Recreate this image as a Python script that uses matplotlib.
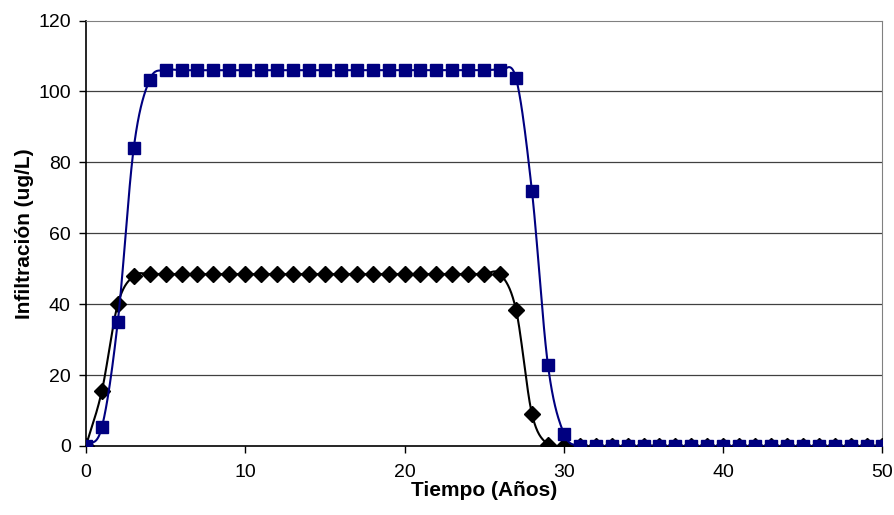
import matplotlib
matplotlib.use("Agg")
import matplotlib.pyplot as plt
import numpy as np

plt.rcParams['font.family'] = ['Liberation Sans', 'DejaVu Sans']

years = list(range(0, 51))

# blue squares series
serie_azul = [0, 5.3, 35, 84, 103.3] + [106] * 22 + [103.7, 71.8, 22.9, 3.5] + [0] * 20
# black diamonds series
serie_negra = [0, 15.5, 40, 48, 48.5] + [48.5] * 22 + [38.4, 9, 0.4, 0] + [0] * 20

x_ticks = [0, 10, 20, 30, 40, 50]
y_ticks = [0, 20, 40, 60, 80, 100, 120]


def smooth(xs, ys, n=20):
    # Catmull-Rom curve through the points, like Excel's smoothed line
    xs = np.asarray(xs, float)
    ys = np.asarray(ys, float)
    px = np.concatenate([[2 * xs[0] - xs[1]], xs, [2 * xs[-1] - xs[-2]]])
    py = np.concatenate([[2 * ys[0] - ys[1]], ys, [2 * ys[-1] - ys[-2]]])
    out_x, out_y = [], []
    t = np.linspace(0, 1, n, endpoint=False)
    for i in range(1, len(px) - 2):
        for p, out in ((px, out_x), (py, out_y)):
            p0, p1, p2, p3 = p[i - 1], p[i], p[i + 1], p[i + 2]
            out.extend(0.5 * ((2 * p1) + (-p0 + p2) * t
                              + (2 * p0 - 5 * p1 + 4 * p2 - p3) * t ** 2
                              + (-p0 + 3 * p1 - 3 * p2 + p3) * t ** 3))
    out_x.append(xs[-1])
    out_y.append(ys[-1])
    return out_x, out_y


fig = plt.figure(figsize=(8.95, 5.15), dpi=100)
ax = fig.add_axes([0.096, 0.134, 0.89, 0.826])

for y in y_ticks[1:-1]:
    ax.axhline(y, color='#404040', lw=0.9, zorder=0)

sx, sy = smooth(years, serie_negra)
ax.plot(sx, sy, color='black', lw=1.5, zorder=2)
ax.plot(years, serie_negra, ls='none', marker='D', ms=8, color='black', zorder=3)

sx, sy = smooth(years, serie_azul)
ax.plot(sx, sy, color='#000080', lw=1.5, zorder=4)
ax.plot(years, serie_azul, ls='none', marker='s', ms=8, color='#000080', zorder=5)

ax.set_xlim(0, 50)
ax.set_ylim(0, 120)
ax.set_xticks(x_ticks)
ax.set_yticks(y_ticks)
ax.tick_params(labelsize=14, length=5, width=1, pad=6)
ax.tick_params(axis='x', pad=8)

for s in ('top', 'right'):
    ax.spines[s].set_color('#808080')
for s in ('left', 'bottom'):
    ax.spines[s].set_color('black')
    ax.spines[s].set_linewidth(1.2)

ax.set_xlabel('Tiempo (Años)', fontsize=15, fontweight='bold', labelpad=0)
ax.set_ylabel('Infiltración (ug/L)', fontsize=15, fontweight='bold', labelpad=3)

fig.savefig('out.png', dpi=100)
